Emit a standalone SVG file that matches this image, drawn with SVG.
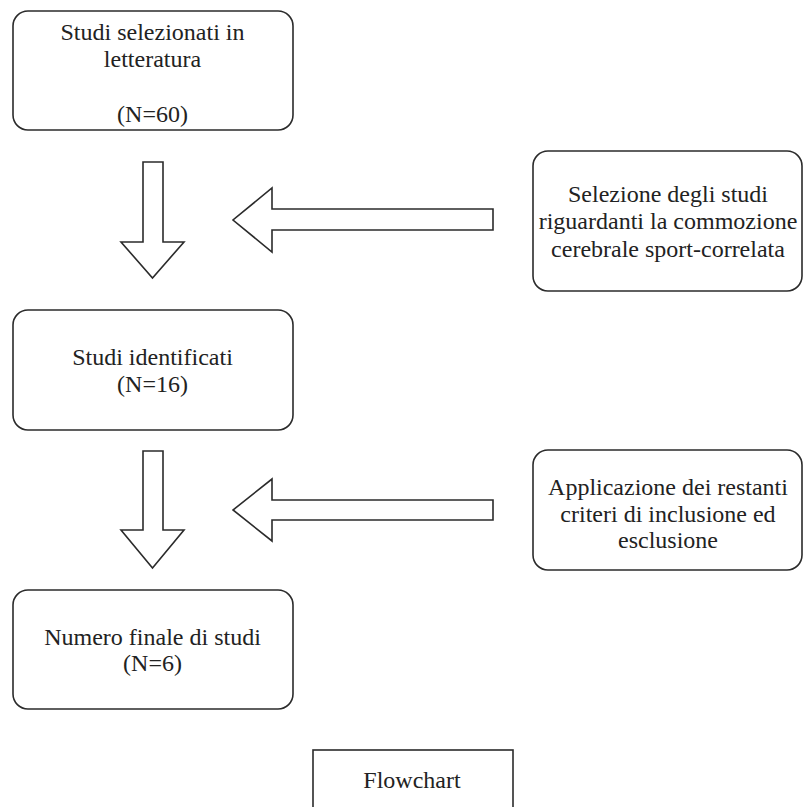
<svg xmlns="http://www.w3.org/2000/svg" width="803" height="807" viewBox="0 0 803 807">
<style>
.box{fill:#fff;stroke:#2b2b2b;stroke-width:1.6}
.arrow{fill:#fff;stroke:#2b2b2b;stroke-width:1.6;stroke-linejoin:miter}
.t{font-family:"Liberation Serif","Times New Roman",serif;font-size:24px;fill:#222;text-anchor:middle}
</style>
<rect width="803" height="807" fill="#fff"/>
<g id="connectors">
<polygon class="arrow" points="143,162 163,162 163,242 184,242 152.5,278 121,242 143,242"/>
<polygon class="arrow" points="143,451 163,451 163,530 184,530 152.5,568 121,530 143,530"/>
<polygon class="arrow" points="493,209 272,209 272,188 233,220 272,252 272,230 493,230"/>
<polygon class="arrow" points="493,500 272,500 272,479 233,510 272,541 272,520 493,520"/>
</g>
<g id="n1">
<rect class="box" x="13" y="11" width="280" height="119" rx="15"/>
<text class="t" x="152.5" y="40">Studi selezionati in</text>
<text class="t" x="152.5" y="67">letteratura</text>
<text class="t" x="152.5" y="122">(N=60)</text>
</g>
<g id="n2">
<rect class="box" x="533" y="151" width="269" height="140" rx="15"/>
<text class="t" x="668" y="202">Selezione degli studi</text>
<text class="t" x="668" y="229">riguardanti la commozione</text>
<text class="t" x="668" y="257">cerebrale sport-correlata</text>
</g>
<g id="n3">
<rect class="box" x="13" y="310" width="280" height="120" rx="15"/>
<text class="t" x="152.5" y="365">Studi identificati</text>
<text class="t" x="152.5" y="392">(N=16)</text>
</g>
<g id="n4">
<rect class="box" x="533" y="450" width="269" height="120" rx="15"/>
<text class="t" x="668" y="495">Applicazione dei restanti</text>
<text class="t" x="668" y="522">criteri di inclusione ed</text>
<text class="t" x="668" y="548">esclusione</text>
</g>
<g id="n5">
<rect class="box" x="13" y="590" width="280" height="119" rx="15"/>
<text class="t" x="152.5" y="645">Numero finale di studi</text>
<text class="t" x="152.5" y="671">(N=6)</text>
</g>
<g id="n6">
<rect class="box" x="313" y="750" width="200" height="80"/>
<text class="t" x="412" y="788">Flowchart</text>
</g>
</svg>
